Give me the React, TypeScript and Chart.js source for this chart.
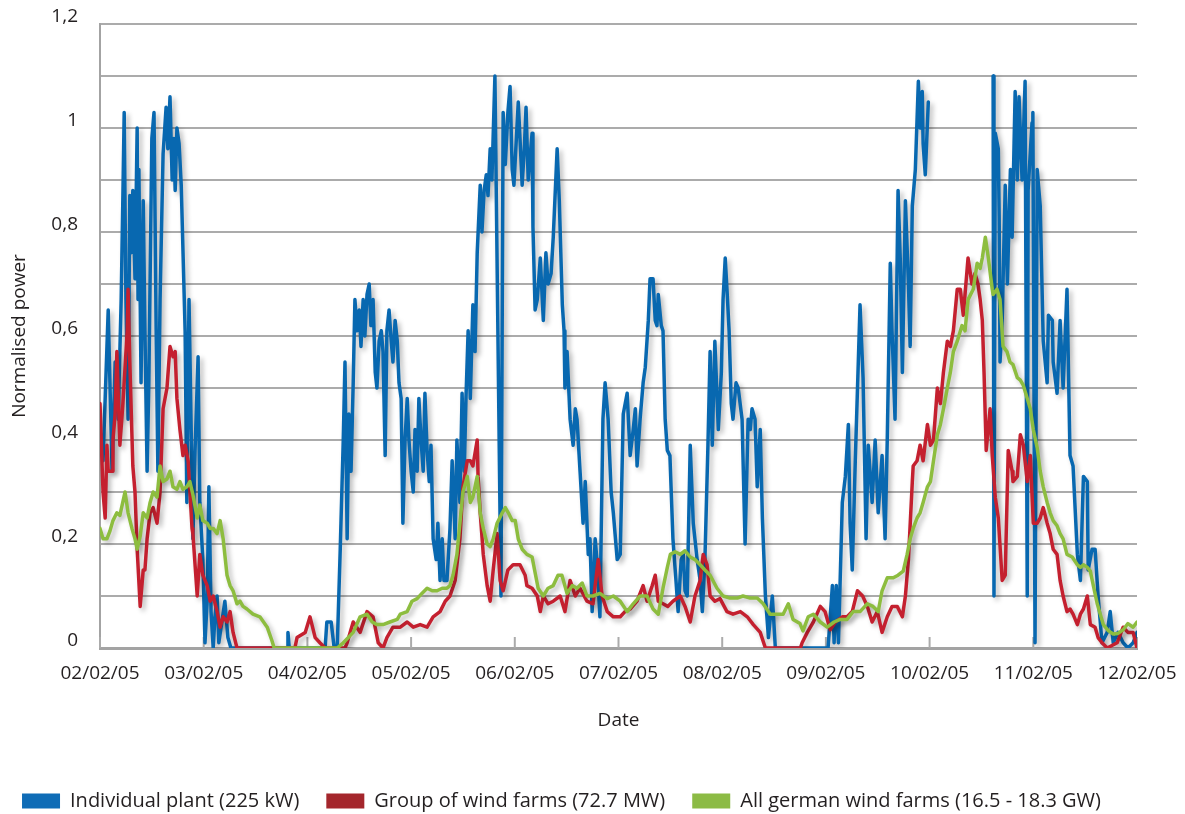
import { useEffect, useRef } from 'react';
import { Chart, registerables } from 'chart.js';

Chart.register(...registerables);

const dateLabels = ['02/02/05', '03/02/05', '04/02/05', '05/02/05', '06/02/05', '07/02/05', '08/02/05', '09/02/05', '10/02/05', '11/02/05', '12/02/05'];

const seriesNames = ['Individual plant (225 kW)', 'Group of wind farms (72.7 MW)', 'All german wind farms (16.5 - 18.3 GW)'];
const lineColors = ['#0868b0', '#c4202f', '#8dbd3f'];
const legendColors = ['#0f6cb6', '#a4262c', '#8cbb45'];

// hours since 02/02/05 00:00
const blueHours = [0, 0.7, 1.2, 1.9, 2.3, 2.8, 3.5, 4.2, 4.9, 5.3, 5.6, 6.0, 6.5, 6.9, 7.2, 7.6, 8.1, 8.6, 8.8, 9.0, 9.5, 10.0, 10.4, 10.9, 11.3, 12.0, 12.5, 13.0, 13.4, 13.9, 14.6, 15.3, 15.7, 16.2, 16.7, 17.1, 17.4, 17.8, 18.3, 18.8, 19.7, 20.1, 20.6, 21.1, 21.5, 22.0, 22.7, 23.1, 23.8, 24.3, 24.8, 25.2, 25.7, 26.2, 26.6, 27.1, 27.5, 28.2, 28.9, 29.6, 30.3, 43.3, 43.5, 43.8, 52.1, 52.5, 53.5, 54.2, 54.9, 55.6, 56.3, 56.7, 57.2, 57.6, 58.1, 58.6, 59.0, 59.5, 60.0, 60.4, 60.9, 61.3, 61.8, 62.3, 62.7, 63.2, 63.7, 64.1, 64.6, 65.1, 65.5, 66.0, 66.4, 66.9, 67.4, 67.8, 68.3, 68.8, 69.2, 69.7, 70.1, 70.6, 71.1, 71.5, 72.0, 72.5, 72.9, 73.4, 73.8, 74.3, 74.8, 75.2, 75.7, 76.2, 76.6, 77.1, 77.8, 78.2, 78.7, 79.2, 79.6, 80.3, 81.0, 81.5, 82.2, 82.6, 83.3, 83.8, 84.3, 84.7, 85.2, 85.7, 86.3, 86.8, 87.3, 88.0, 88.4, 88.9, 89.4, 89.8, 90.3, 90.7, 91.4, 92.8, 93.3, 93.8, 94.4, 94.9, 95.4, 95.8, 96.8, 97.2, 97.7, 98.2, 98.6, 99.1, 99.5, 100.0, 100.2, 100.7, 101.2, 101.9, 102.6, 103.2, 103.7, 104.4, 104.9, 105.8, 106.3, 107.0, 107.4, 107.6, 108.1, 108.8, 109.5, 110.0, 110.4, 111.1, 111.8, 112.3, 113.0, 113.4, 113.9, 114.6, 115.0, 115.7, 116.4, 116.9, 117.6, 118.3, 118.8, 119.7, 120.4, 121.1, 122.0, 122.7, 123.4, 123.9, 124.3, 125.0, 125.7, 126.2, 126.9, 127.3, 128.0, 128.5, 128.9, 129.2, 129.9, 130.3, 130.8, 131.3, 131.9, 132.6, 133.3, 133.8, 134.5, 135.0, 135.4, 135.9, 136.6, 137.3, 138.2, 138.9, 139.4, 140.0, 140.7, 141.2, 141.7, 142.3, 143.1, 143.8, 144.2, 144.7, 145.1, 145.6, 146.1, 146.5, 147.2, 147.7, 148.6, 149.3, 150.0, 150.5, 150.9, 151.6, 152.1, 152.8, 153.3, 154.0, 154.7, 155.6, 156.3, 168.5, 169.5, 169.9, 170.4, 170.9, 171.8, 172.5, 173.2, 173.6, 174.1, 174.8, 175.5, 175.9, 176.6, 177.3, 177.8, 178.7, 179.4, 180.1, 181.0, 181.7, 182.2, 182.9, 183.3, 184.0, 184.7, 185.2, 185.7, 186.4, 187.1, 187.5, 188.0, 188.7, 189.4, 189.8, 190.3, 190.5, 191.0, 191.7, 192.5, 206.7, 206.9, 207.2, 207.9, 208.1, 208.3, 208.8, 209.5, 210.0, 210.7, 211.1, 211.8, 212.3, 212.7, 213.4, 214.1, 214.6, 214.8, 215.7, 215.9, 216.4, 216.9, 217.6, 218.3, 219.2, 219.5, 220.4, 220.6, 221.5, 222.2, 222.9, 223.8, 224.5, 225.2, 226.2, 226.9, 227.6, 228.5, 228.7, 229.6, 230.3, 231.0, 231.9, 233.1, 233.8, 234.5, 235.6, 236.8, 237.9, 239.1, 240];
const blueValues = [0.42, 0.36, 0.48, 0.65, 0.51, 0.34, 0.55, 0.44, 0.67, 0.87, 1.03, 0.67, 0.44, 0.87, 0.76, 0.88, 0.71, 1.0, 0.67, 0.92, 0.51, 0.86, 0.61, 0.34, 0.51, 0.98, 1.03, 0.61, 0.34, 0.67, 0.95, 1.04, 0.96, 1.06, 0.9, 0.98, 0.88, 1.0, 0.97, 0.89, 0.61, 0.28, 0.67, 0.42, 0.21, 0.38, 0.56, 0.28, 0.17, 0.01, 0.09, 0.31, 0.07, 0, 0.06, 0.10, 0.01, 0.05, 0.09, 0.02, 0, 0, 0.03, 0, 0, 0.05, 0.05, 0, 0, 0.19, 0.40, 0.55, 0.21, 0.45, 0.34, 0.51, 0.67, 0.61, 0.65, 0.58, 0.67, 0.60, 0.68, 0.70, 0.62, 0.67, 0.53, 0.50, 0.59, 0.61, 0.57, 0.37, 0.61, 0.65, 0.59, 0.55, 0.63, 0.59, 0.51, 0.48, 0.24, 0.40, 0.48, 0.40, 0.34, 0.30, 0.42, 0.34, 0.48, 0.40, 0.34, 0.49, 0.38, 0.32, 0.39, 0.21, 0.17, 0.24, 0.13, 0.21, 0.13, 0.13, 0.23, 0.36, 0.21, 0.40, 0.28, 0.49, 0.34, 0.48, 0.61, 0.48, 0.66, 0.57, 0.76, 0.89, 0.80, 0.88, 0.91, 0.87, 0.96, 0.90, 1.10, 0.10, 1.03, 0.93, 1.03, 1.08, 0.92, 0.89, 1.05, 0.98, 0.89, 0.96, 1.04, 0.90, 0.94, 0.99, 0.81, 0.65, 0.67, 0.75, 0.63, 0.76, 0.70, 0.72, 0.79, 0.96, 0.86, 0.66, 0.61, 0.50, 0.57, 0.44, 0.39, 0.46, 0.44, 0.34, 0.24, 0.32, 0.18, 0.21, 0.07, 0.21, 0.17, 0.06, 0.44, 0.51, 0.44, 0.30, 0.26, 0.17, 0.18, 0.45, 0.49, 0.37, 0.42, 0.46, 0.35, 0.44, 0.51, 0.54, 0.63, 0.71, 0.71, 0.63, 0.62, 0.68, 0.62, 0.61, 0.44, 0.38, 0.37, 0.21, 0.13, 0.07, 0.17, 0.18, 0.11, 0.10, 0.39, 0.24, 0.17, 0.13, 0.07, 0.17, 0.39, 0.57, 0.39, 0.59, 0.42, 0.53, 0.67, 0.75, 0.69, 0.61, 0.47, 0.44, 0.51, 0.50, 0.44, 0.20, 0.44, 0.42, 0.46, 0.44, 0.31, 0.42, 0.25, 0.10, 0.02, 0.10, 0, 0, 0.12, 0.01, 0.12, 0.01, 0.28, 0.33, 0.43, 0.24, 0.15, 0.36, 0.55, 0.66, 0.52, 0.21, 0.39, 0.28, 0.40, 0.26, 0.37, 0.21, 0.40, 0.74, 0.61, 0.44, 0.88, 0.75, 0.53, 0.86, 0.70, 0.58, 0.85, 0.92, 1.09, 1.0, 1.07, 0.97, 0.91, 1.05, null, 1.10, 0.10, 0.99, 0.96, 0.83, 0.55, 0.63, 0.89, 0.70, 0.92, 0.79, 1.07, 0.90, 1.06, 0.90, 1.09, 0.10, 0.88, 1.01, 1.03, 0.01, 0.92, 0.85, 0.59, 0.51, 0.64, 0.63, 0.55, 0.49, 0.63, 0.50, 0.69, 0.37, 0.35, 0.18, 0.13, 0.33, 0.32, 0.15, 0.19, 0.19, 0.10, 0.01, 0.03, 0.07, 0.01, 0.03, 0.01, 0, 0.01, 0.03];

const redHours = [0, 0.7, 1.2, 1.6, 1.9, 2.8, 3.0, 3.5, 3.9, 4.6, 5.3, 6.3, 6.5, 6.9, 7.6, 8.1, 8.6, 9.3, 10.0, 10.4, 10.9, 11.6, 12.3, 13.2, 13.9, 14.6, 15.5, 16.2, 16.9, 17.4, 17.8, 18.5, 19.2, 19.7, 20.4, 21.3, 21.5, 22.5, 23.1, 23.8, 24.8, 25.5, 26.2, 27.1, 27.8, 28.5, 29.4, 30.1, 30.8, 31.7, 45.1, 45.6, 47.5, 48.6, 49.8, 50.9, 52.1, 56.7, 57.2, 58.6, 60.2, 61.8, 63.2, 64.4, 65.5, 66.4, 67.8, 69.5, 71.1, 72.5, 74.1, 75.7, 77.1, 78.7, 79.9, 81.0, 82.2, 83.3, 84.0, 85.0, 85.7, 86.3, 87.3, 87.5, 88.0, 88.7, 89.6, 90.3, 91.0, 91.9, 92.6, 93.3, 94.4, 95.6, 97.2, 98.4, 98.8, 100.0, 101.2, 101.9, 102.6, 103.7, 104.9, 106.5, 107.6, 108.8, 110.0, 111.1, 112.7, 114.1, 115.3, 116.2, 117.4, 118.8, 120.4, 121.5, 122.7, 124.3, 125.7, 126.6, 127.8, 128.5, 129.2, 130.3, 131.4, 132.6, 134.3, 135.4, 136.6, 137.7, 138.9, 139.6, 140.5, 141.2, 142.3, 143.5, 145.1, 146.5, 148.2, 149.8, 151.2, 152.8, 154.0, 162.1, 162.5, 163.7, 165.1, 166.7, 167.8, 169.0, 170.2, 171.8, 172.9, 174.1, 175.3, 176.5, 177.6, 178.7, 179.9, 181.0, 182.2, 183.3, 184.5, 185.7, 186.4, 187.1, 188.0, 188.2, 189.1, 189.8, 190.5, 191.5, 192.2, 192.9, 193.8, 194.5, 195.2, 196.1, 196.8, 197.5, 198.4, 199.1, 199.8, 200.7, 200.9, 201.8, 202.5, 203.2, 203.7, 204.2, 204.6, 205.1, 206.0, 206.5, 207.2, 207.9, 208.8, 209.5, 210.2, 211.1, 211.3, 212.3, 213.0, 213.7, 214.6, 215.3, 216.0, 216.9, 217.6, 218.3, 219.2, 219.9, 220.6, 221.5, 222.2, 222.9, 223.8, 224.5, 225.2, 226.2, 226.9, 227.6, 228.5, 229.2, 230.3, 231.0, 231.9, 233.1, 235.4, 236.8, 237.9, 239.1, 240];
const redValues = [0.47, 0.30, 0.25, 0.39, 0.34, 0.34, 0.40, 0.45, 0.57, 0.39, 0.47, 0.61, 0.69, 0.55, 0.35, 0.30, 0.19, 0.08, 0.15, 0.15, 0.21, 0.26, 0.27, 0.24, 0.30, 0.46, 0.50, 0.58, 0.56, 0.57, 0.48, 0.42, 0.37, 0.39, 0.36, 0.23, 0.22, 0.10, 0.18, 0.14, 0.12, 0.09, 0.10, 0.07, 0.04, 0.06, 0.05, 0.07, 0.03, 0, 0, 0.02, 0.03, 0.06, 0.02, 0.01, 0, 0, 0.01, 0.05, 0.03, 0.07, 0.06, 0.01, 0, 0.02, 0.04, 0.04, 0.05, 0.04, 0.045, 0.04, 0.06, 0.07, 0.09, 0.10, 0.13, 0.21, 0.31, 0.36, 0.36, 0.35, 0.40, 0.33, 0.26, 0.18, 0.12, 0.09, 0.15, 0.22, 0.13, 0.11, 0.15, 0.16, 0.16, 0.14, 0.12, 0.115, 0.10, 0.07, 0.10, 0.085, 0.09, 0.10, 0.07, 0.13, 0.10, 0.115, 0.09, 0.085, 0.17, 0.10, 0.07, 0.06, 0.06, 0.07, 0.075, 0.09, 0.12, 0.09, 0.12, 0.14, 0.09, 0.085, 0.08, 0.09, 0.10, 0.08, 0.05, 0.10, 0.13, 0.18, 0.16, 0.10, 0.09, 0.095, 0.07, 0.065, 0.07, 0.06, 0.045, 0.03, 0, 0, 0.01, 0.03, 0.05, 0.08, 0.07, 0.035, 0.05, 0.06, 0.06, 0.07, 0.11, 0.10, 0.08, 0.05, 0.07, 0.03, 0.06, 0.08, 0.08, 0.06, 0.10, 0.17, 0.32, 0.35, 0.36, 0.39, 0.36, 0.43, 0.39, 0.40, 0.50, 0.47, 0.53, 0.59, 0.58, 0.61, 0.69, 0.69, 0.64, 0.73, 0.75, 0.70, 0.72, 0.70, 0.67, 0.63, 0.53, 0.38, 0.46, 0.37, 0.29, 0.25, 0.13, 0.14, 0.38, 0.34, 0.32, 0.33, 0.41, 0.39, 0.32, 0.37, 0.24, 0.24, 0.25, 0.27, 0.24, 0.22, 0.19, 0.18, 0.13, 0.10, 0.07, 0.075, 0.065, 0.045, 0.065, 0.075, 0.10, 0.045, 0.04, 0.02, 0.01, 0, 0.01, 0.04, 0.03, 0.03, 0];

const greenHours = [0, 0.7, 1.6, 2.3, 3.0, 3.9, 4.6, 5.8, 6.5, 7.4, 8.1, 8.6, 9.3, 10.0, 10.9, 11.6, 12.3, 13.2, 13.9, 14.6, 15.5, 16.2, 16.9, 17.8, 18.5, 19.2, 20.1, 20.8, 21.5, 22.5, 23.1, 23.8, 24.8, 25.5, 26.2, 27.1, 27.8, 28.5, 29.4, 30.1, 30.8, 31.7, 32.4, 33.1, 34.0, 35.4, 37.0, 38.7, 39.8, 40.3, 54.9, 56.3, 58.6, 60.2, 61.8, 63.0, 64.1, 65.5, 67.1, 68.8, 69.5, 71.1, 72.2, 73.4, 74.5, 75.7, 76.9, 78.0, 79.2, 80.3, 81.0, 81.7, 82.6, 83.3, 84.0, 85.0, 85.7, 86.3, 87.3, 88.0, 88.7, 89.6, 90.3, 91.0, 91.9, 93.1, 93.8, 94.5, 95.4, 96.1, 96.8, 97.7, 98.8, 100.0, 100.7, 101.4, 102.6, 103.7, 104.9, 106.0, 106.9, 108.1, 109.3, 110.4, 111.6, 112.7, 114.1, 115.7, 117.4, 118.8, 120.4, 122.0, 123.4, 125.0, 126.6, 128.0, 129.2, 130.3, 131.3, 132.0, 133.1, 134.3, 135.4, 136.6, 137.7, 138.9, 140.0, 141.2, 142.8, 144.2, 145.8, 147.5, 148.8, 150.5, 152.1, 153.5, 155.1, 156.7, 158.1, 159.3, 160.4, 162.0, 162.7, 163.9, 165.1, 166.7, 168.3, 169.9, 171.3, 172.9, 174.3, 175.9, 177.6, 178.9, 180.1, 181.0, 182.2, 183.6, 184.7, 185.9, 186.8, 187.5, 188.2, 189.1, 189.8, 190.5, 191.5, 192.2, 192.9, 193.8, 194.5, 195.2, 196.1, 196.8, 197.5, 198.4, 199.5, 200.2, 200.9, 202.1, 203.0, 203.7, 204.2, 204.9, 205.6, 206.5, 206.7, 207.6, 208.3, 209.0, 209.9, 210.6, 211.3, 212.3, 213.0, 213.7, 214.6, 215.3, 216.0, 216.9, 217.6, 218.3, 219.2, 219.9, 220.6, 221.5, 222.2, 222.9, 223.8, 225.0, 226.2, 226.9, 227.6, 228.5, 229.2, 229.9, 230.8, 231.5, 232.2, 233.4, 234.5, 235.6, 236.8, 237.9, 239.1, 240];
const greenValues = [0.23, 0.21, 0.21, 0.225, 0.245, 0.26, 0.255, 0.30, 0.26, 0.23, 0.21, 0.19, 0.215, 0.26, 0.25, 0.28, 0.30, 0.29, 0.35, 0.32, 0.325, 0.34, 0.31, 0.305, 0.32, 0.305, 0.31, 0.32, 0.295, 0.25, 0.275, 0.245, 0.24, 0.23, 0.23, 0.22, 0.245, 0.21, 0.14, 0.12, 0.11, 0.085, 0.09, 0.08, 0.075, 0.065, 0.06, 0.04, 0.014, 0, 0, 0.01, 0.03, 0.06, 0.065, 0.05, 0.045, 0.045, 0.05, 0.055, 0.065, 0.07, 0.09, 0.095, 0.105, 0.115, 0.11, 0.11, 0.115, 0.115, 0.12, 0.14, 0.18, 0.24, 0.30, 0.33, 0.28, 0.29, 0.33, 0.26, 0.23, 0.20, 0.195, 0.21, 0.24, 0.26, 0.27, 0.26, 0.245, 0.245, 0.21, 0.19, 0.18, 0.175, 0.145, 0.115, 0.10, 0.115, 0.12, 0.14, 0.14, 0.105, 0.12, 0.115, 0.125, 0.10, 0.10, 0.105, 0.095, 0.10, 0.09, 0.07, 0.085, 0.10, 0.10, 0.075, 0.065, 0.115, 0.155, 0.18, 0.185, 0.18, 0.187, 0.175, 0.17, 0.16, 0.15, 0.14, 0.115, 0.10, 0.096, 0.096, 0.10, 0.096, 0.096, 0.085, 0.065, 0.065, 0.065, 0.085, 0.055, 0.047, 0.033, 0.06, 0.065, 0.05, 0.04, 0.05, 0.055, 0.055, 0.07, 0.07, 0.085, 0.08, 0.07, 0.11, 0.135, 0.135, 0.14, 0.148, 0.18, 0.21, 0.23, 0.25, 0.26, 0.28, 0.31, 0.32, 0.36, 0.41, 0.43, 0.46, 0.50, 0.53, 0.57, 0.59, 0.62, 0.61, 0.67, 0.69, 0.74, 0.73, 0.75, 0.79, 0.75, 0.69, 0.68, 0.69, 0.67, 0.58, 0.57, 0.55, 0.545, 0.52, 0.515, 0.505, 0.48, 0.46, 0.42, 0.385, 0.34, 0.31, 0.28, 0.26, 0.245, 0.235, 0.22, 0.21, 0.18, 0.175, 0.16, 0.155, 0.16, 0.155, 0.148, 0.12, 0.085, 0.065, 0.045, 0.033, 0.027, 0.028, 0.035, 0.047, 0.04, 0.05];

const toPoints = (hours: number[], values: (number | null)[]) => hours.map((h, i) => ({ x: h, y: values[i] }));

const FONT = '"Open Sans", "DejaVu Sans", sans-serif';
const TEXT = '#231f20';
const GRID = '#ababab';
const CLEAR = 'rgba(0,0,0,0)';

const innerTicks = {
  id: 'innerTicks',
  beforeDatasetsDraw(chart: any) {
    const { ctx, chartArea, scales } = chart;
    const xs = scales.x;
    ctx.save();
    ctx.strokeStyle = GRID;
    ctx.lineWidth = 2;
    xs.ticks.forEach((t: any) => {
      const px = xs.getPixelForValue(t.value);
      ctx.beginPath();
      ctx.moveTo(px, chartArea.bottom);
      ctx.lineTo(px, chartArea.bottom - 11);
      ctx.stroke();
    });
    ctx.restore();
  },
};

const lineShadow = {
  id: 'lineShadow',
  beforeDatasetDraw(chart: any) {
    const ctx = chart.ctx;
    ctx.save();
    ctx.shadowColor = 'rgba(0,0,0,0.28)';
    ctx.shadowBlur = 5;
    ctx.shadowOffsetX = 3;
    ctx.shadowOffsetY = 3;
  },
  afterDatasetDraw(chart: any) {
    chart.ctx.restore();
  },
};

export default function App() {
  const ref = useRef<HTMLCanvasElement>(null);

  useEffect(() => {
    if (!ref.current) return;
    const seriesData = [toPoints(blueHours, blueValues), toPoints(redHours, redValues), toPoints(greenHours, greenValues)];
    const orders = [2, 1, 0];
    const chart = new Chart(ref.current, {
      type: 'line',
      data: {
        datasets: seriesData.map((d, i) => ({
          label: seriesNames[i],
          data: d,
          borderColor: lineColors[i],
          backgroundColor: legendColors[i],
          borderWidth: 3.5,
          pointRadius: 0,
          tension: 0,
          fill: false,
          spanGaps: false,
          borderJoinStyle: 'round' as const,
          borderCapStyle: 'round' as const,
          order: orders[i],
        })),
      },
      options: {
        responsive: false,
        animation: false,
        events: [],
        layout: { padding: { left: -14, right: 48, top: 24, bottom: -7 } },
        plugins: {
          tooltip: { enabled: false },
          legend: {
            position: 'bottom',
            align: 'center',
            maxWidth: 1400,
            labels: {
              boxWidth: 38,
              boxHeight: 15,
              padding: 27,
              color: TEXT,
              font: { family: FONT, size: 20 },
              generateLabels: (ch: any) =>
                ch.data.datasets.map((ds: any, i: number) => ({
                  text: ds.label,
                  fillStyle: legendColors[i],
                  strokeStyle: legendColors[i],
                  lineWidth: 0,
                  hidden: false,
                  datasetIndex: i,
                  fontColor: TEXT,
                })),
            },
          },
        },
        scales: {
          x: {
            type: 'linear',
            min: 0,
            max: 240,
            afterFit: (s: any) => { s.height = 116; },
            grid: { display: true, drawOnChartArea: false, drawTicks: true, tickLength: 14, tickColor: CLEAR, color: CLEAR },
            border: { display: true, color: '#a3a3a3', width: 3 },
            ticks: {
              stepSize: 24,
              padding: 0,
              maxRotation: 0,
              autoSkip: false,
              color: TEXT,
              font: { family: FONT, size: 19 },
              callback: (v: any) => dateLabels[Math.round(Number(v) / 24)] ?? '',
            },
            title: {
              display: true,
              text: 'Date',
              color: TEXT,
              font: { family: FONT, size: 19 },
              padding: { top: 0, bottom: 32 },
            },
          },
          y: {
            min: 0,
            max: 1.2,
            afterFit: (s: any) => { s.width = 114; },
            grid: { color: GRID, lineWidth: 2, drawTicks: true, tickLength: 22, tickColor: CLEAR },
            border: { display: true, color: '#a3a3a3', width: 2 },
            ticks: {
              stepSize: 0.1,
              padding: 0,
              labelOffset: -7,
              color: TEXT,
              font: { family: FONT, size: 19 },
              callback: (v: any) => {
                const k = Math.round(Number(v) * 10);
                if (k % 2 !== 0) return '';
                return String(k / 10).replace('.', ',');
              },
            },
            title: {
              display: true,
              text: 'Normalised power',
              color: TEXT,
              font: { family: FONT, size: 19 },
              padding: { top: 22, bottom: 0 },
            },
          },
        },
      },
      plugins: [innerTicks, lineShadow],
    } as any);
    return () => chart.destroy();
  }, []);

  return (
    <div style={{ position: 'fixed', left: 0, top: 0, width: 1185, height: 814, background: '#fff' }}>
      <canvas ref={ref} width={1185} height={814} style={{ display: 'block' }} />
    </div>
  );
}
